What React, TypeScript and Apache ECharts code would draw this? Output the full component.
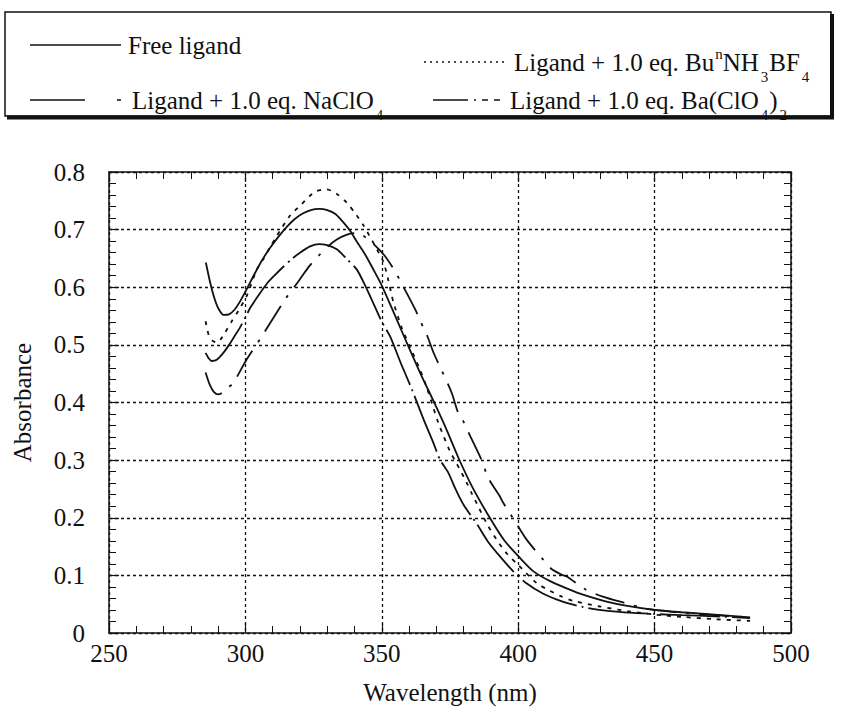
import React, { useEffect, useRef } from "react";
import * as echarts from "echarts";

const FONT = "Liberation Serif";

const xTicks = [250, 300, 350, 400, 450, 500];
const yTicks = [0, 0.1, 0.2, 0.3, 0.4, 0.5, 0.6, 0.7, 0.8];

const seriesNames = [
  "Free ligand",
  "Ligand + 1.0 eq. BuⁿNH₃BF₄",
  "Ligand + 1.0 eq. NaClO₄",
  "Ligand + 1.0 eq. Ba(ClO₄)₂",
];

const freeLigand: [number, number][] = [
  [285.5, 0.643], [287, 0.61], [288.5, 0.583], [290, 0.564], [292, 0.552], [294, 0.553],
  [296, 0.561], [298, 0.575], [300.5, 0.597], [303, 0.62], [306, 0.646], [309, 0.668],
  [312, 0.687], [315, 0.704], [318, 0.718], [321, 0.728], [324, 0.734], [327, 0.736],
  [330, 0.734], [333, 0.727], [336, 0.712], [338.5, 0.697], [341, 0.678], [344, 0.656],
  [347, 0.63], [350, 0.603], [353, 0.571], [356, 0.538], [359.7, 0.498], [364, 0.452],
  [369.5, 0.397], [374, 0.35], [378, 0.305], [383, 0.255], [389.7, 0.199], [395, 0.16],
  [400.7, 0.13], [405.6, 0.107], [411.7, 0.09], [418, 0.077], [424, 0.066], [432, 0.055],
  [440, 0.047], [450, 0.04], [460, 0.036], [472, 0.032], [485, 0.027],
];

const buNH3BF4: [number, number][] = [
  [285.4, 0.541], [286.5, 0.518], [288, 0.507], [289.5, 0.504], [291, 0.51], [292.5, 0.521],
  [295, 0.541], [297.4, 0.559], [300.5, 0.585], [302.5, 0.61], [304.2, 0.631], [306.6, 0.649],
  [309, 0.669], [311.5, 0.689], [316.3, 0.724], [320.6, 0.744], [323.5, 0.758], [326.1, 0.767],
  [329.8, 0.77], [333.5, 0.762], [337.1, 0.747], [340, 0.73], [343.2, 0.708], [347.5, 0.672],
  [350.5, 0.645], [352.4, 0.612], [354.2, 0.575], [357.3, 0.53], [360.5, 0.495], [364, 0.457],
  [366.7, 0.423], [370.7, 0.365], [375, 0.315], [377, 0.298], [381, 0.262], [383, 0.242],
  [385.4, 0.219], [388.7, 0.188], [392.1, 0.162], [395.8, 0.138], [400, 0.118], [406.7, 0.087],
  [411.7, 0.073], [416, 0.063], [420, 0.056], [430, 0.046], [440, 0.038], [450, 0.032],
  [460, 0.028], [472, 0.024], [485, 0.021],
];

const naClO4: [number, number][] = [
  [285.4, 0.486], [286.5, 0.477], [287.6, 0.472], [289.5, 0.474], [291.9, 0.486], [294, 0.5],
  [296, 0.515], [298, 0.53], [300, 0.548], [302, 0.566], [305.4, 0.59], [308, 0.607],
  [311, 0.622], [314, 0.636], [317, 0.649], [320, 0.66], [323.7, 0.671], [327, 0.675],
  [330, 0.673], [333.5, 0.666], [337, 0.65], [340.8, 0.631], [344, 0.602], [347.5, 0.566],
  [350, 0.54], [353, 0.515], [357, 0.468], [361, 0.423], [365.2, 0.372], [368.9, 0.33],
  [371.3, 0.301], [374.4, 0.278], [377, 0.25], [379.9, 0.223], [385, 0.188], [389, 0.158],
  [393.3, 0.133], [398, 0.108], [402.5, 0.088], [409.2, 0.068], [416, 0.055], [423.8, 0.045],
  [432, 0.039], [442.2, 0.035], [450, 0.033], [460, 0.031], [472, 0.029], [485, 0.026],
];

const baClO42: [number, number][] = [
  [285.4, 0.452], [287, 0.43], [288.5, 0.418], [290, 0.414], [292, 0.418], [294, 0.427],
  [295.6, 0.434], [300.5, 0.475], [305.4, 0.51], [310, 0.545], [315, 0.582], [320, 0.614],
  [323.5, 0.637], [326.7, 0.654], [330, 0.67], [333.5, 0.683], [337, 0.691], [340.2, 0.694],
  [343, 0.69], [347, 0.675], [351, 0.655], [354.8, 0.628], [358, 0.6], [362.2, 0.562],
  [365.2, 0.53], [366.7, 0.515], [369.1, 0.485], [372, 0.455], [375.6, 0.417], [378, 0.382],
  [379.6, 0.37], [382.6, 0.34], [386.6, 0.3], [389, 0.269], [393.3, 0.237], [394.5, 0.226],
  [398.8, 0.194], [403.1, 0.162], [409.2, 0.127], [412, 0.112], [416, 0.101], [417.8, 0.098],
  [424.5, 0.076], [431, 0.063], [439.1, 0.052], [445.9, 0.043], [450, 0.04], [460, 0.035],
  [472, 0.031], [485, 0.027],
];

const seriesData = [freeLigand, buNH3BF4, naClO4, baClO42];
const seriesDash: any[] = ["solid", [4, 6], [60, 5, 2, 5], [30, 10, 3, 10]];

const INK = "#111";

const rich = {
  n: { fontSize: 25, fontFamily: FONT, fill: INK, verticalAlign: "middle" },
  sub: { fontSize: 15, fontFamily: FONT, fill: INK, padding: [30, 1, 0, 2], verticalAlign: "middle" },
  sup: { fontSize: 15, fontFamily: FONT, fill: INK, padding: [0, 0, 16, 1], verticalAlign: "middle" },
};

const legendLabels = [
  "{n|Free ligand}",
  "{n|Ligand + 1.0 eq. Bu}{sup|n}{n|NH}{sub|3}{n|BF}{sub|4}",
  "{n|Ligand + 1.0 eq. NaClO}{sub|4}",
  "{n|Ligand + 1.0 eq. Ba(ClO}{sub|4}{n|)}{sub|2}",
];

export default function App() {
  const ref = useRef<HTMLDivElement>(null);
  useEffect(() => {
    const chart = echarts.init(ref.current!, null, { renderer: "svg" });
    const axisLine = { show: true, onZero: false, lineStyle: { color: INK, width: 1.5 } };
    const axisTick = { show: true, inside: true, length: 10, lineStyle: { color: INK, width: 1.2 } };
    const minorTick = { show: true, splitNumber: 5, length: 7, lineStyle: { color: INK, width: 1 } };
    const splitLine = { show: true, lineStyle: { color: INK, width: 1.3, type: [3, 3] } };
    const labelStyle = { fontSize: 25, fontFamily: FONT, color: INK };
    const xMin = xTicks[0];
    const xMax = xTicks[xTicks.length - 1];
    const xInt = xTicks[1] - xTicks[0];
    const yMin = yTicks[0];
    const yMax = yTicks[yTicks.length - 1];
    const yInt = +(yTicks[1] - yTicks[0]).toFixed(3);

    const legendY = [45, 62, 100, 100];
    const legendTextX = [128, 514, 132, 510];
    const legendLines = [
      { x1: 30, x2: 121, dash: null },
      { x1: 424, x2: 504, dash: [2, 4] },
      { x1: 30, x2: 121, dash: [55, 32, 4, 100] },
      { x1: 433, x2: 500, dash: [35, 6, 2, 6, 6, 6, 6, 100] },
    ];

    const graphic: any[] = [
      {
        type: "rect",
        shape: { x: 5, y: 12, width: 826, height: 104 },
        style: { fill: "#fff", stroke: INK, lineWidth: 1.5 },
        z: 10,
      },
      { type: "line", shape: { x1: 7, y1: 117.5, x2: 834, y2: 117.5 }, style: { stroke: INK, lineWidth: 4 }, z: 11 },
      { type: "line", shape: { x1: 832, y1: 14, x2: 832, y2: 119 }, style: { stroke: INK, lineWidth: 4 }, z: 11 },
    ];
    legendLines.forEach((l, i) => {
      graphic.push({
        type: "line",
        shape: { x1: l.x1, y1: legendY[i], x2: l.x2, y2: legendY[i] },
        style: { stroke: INK, lineWidth: 1.6, lineDash: l.dash || undefined },
        z: 12,
      });
      graphic.push({
        type: "text",
        x: legendTextX[i],
        y: legendY[i],
        style: { text: legendLabels[i], rich, verticalAlign: "middle", align: "left", fill: INK },
        z: 12,
      });
    });

    const option: any = {
      animation: false,
      backgroundColor: "#fff",
      textStyle: { fontFamily: FONT },
      grid: { left: 109, right: 51, top: 172, bottom: 83, containLabel: false },
      xAxis: [
        {
          type: "value", min: xMin, max: xMax, interval: xInt, position: "bottom",
          axisLine, axisTick, minorTick, splitLine,
          axisLabel: { ...labelStyle, margin: 8 },
          name: "Wavelength (nm)", nameLocation: "middle", nameGap: 47,
          nameTextStyle: { ...labelStyle },
        },
        {
          type: "value", min: xMin, max: xMax, interval: xInt, position: "top",
          axisLine, axisTick, minorTick, splitLine: { show: false }, axisLabel: { show: false },
        },
      ],
      yAxis: [
        {
          type: "value", min: yMin, max: yMax, interval: yInt, position: "left",
          axisLine, axisTick, minorTick, splitLine,
          axisLabel: { ...labelStyle, margin: 24 },
          name: "Absorbance", nameLocation: "middle", nameGap: 74,
          nameTextStyle: { ...labelStyle },
        },
        {
          type: "value", min: yMin, max: yMax, interval: yInt, position: "right",
          axisLine, axisTick, minorTick, splitLine: { show: false }, axisLabel: { show: false },
        },
      ],
      series: seriesData.map((d, i) => ({
        name: seriesNames[i],
        type: "line",
        data: d,
        xAxisIndex: 0,
        yAxisIndex: 0,
        showSymbol: false,
        symbol: "none",
        smooth: 0.25,
        lineStyle: { color: INK, width: 1.8, type: seriesDash[i] },
        z: 5,
      })),
      graphic,
    };
    chart.setOption(option);
    return () => chart.dispose();
  }, []);
  return (
    <div
      ref={ref}
      style={{ position: "fixed", left: 0, top: 0, width: 842, height: 716, background: "#fff" }}
    />
  );
}
